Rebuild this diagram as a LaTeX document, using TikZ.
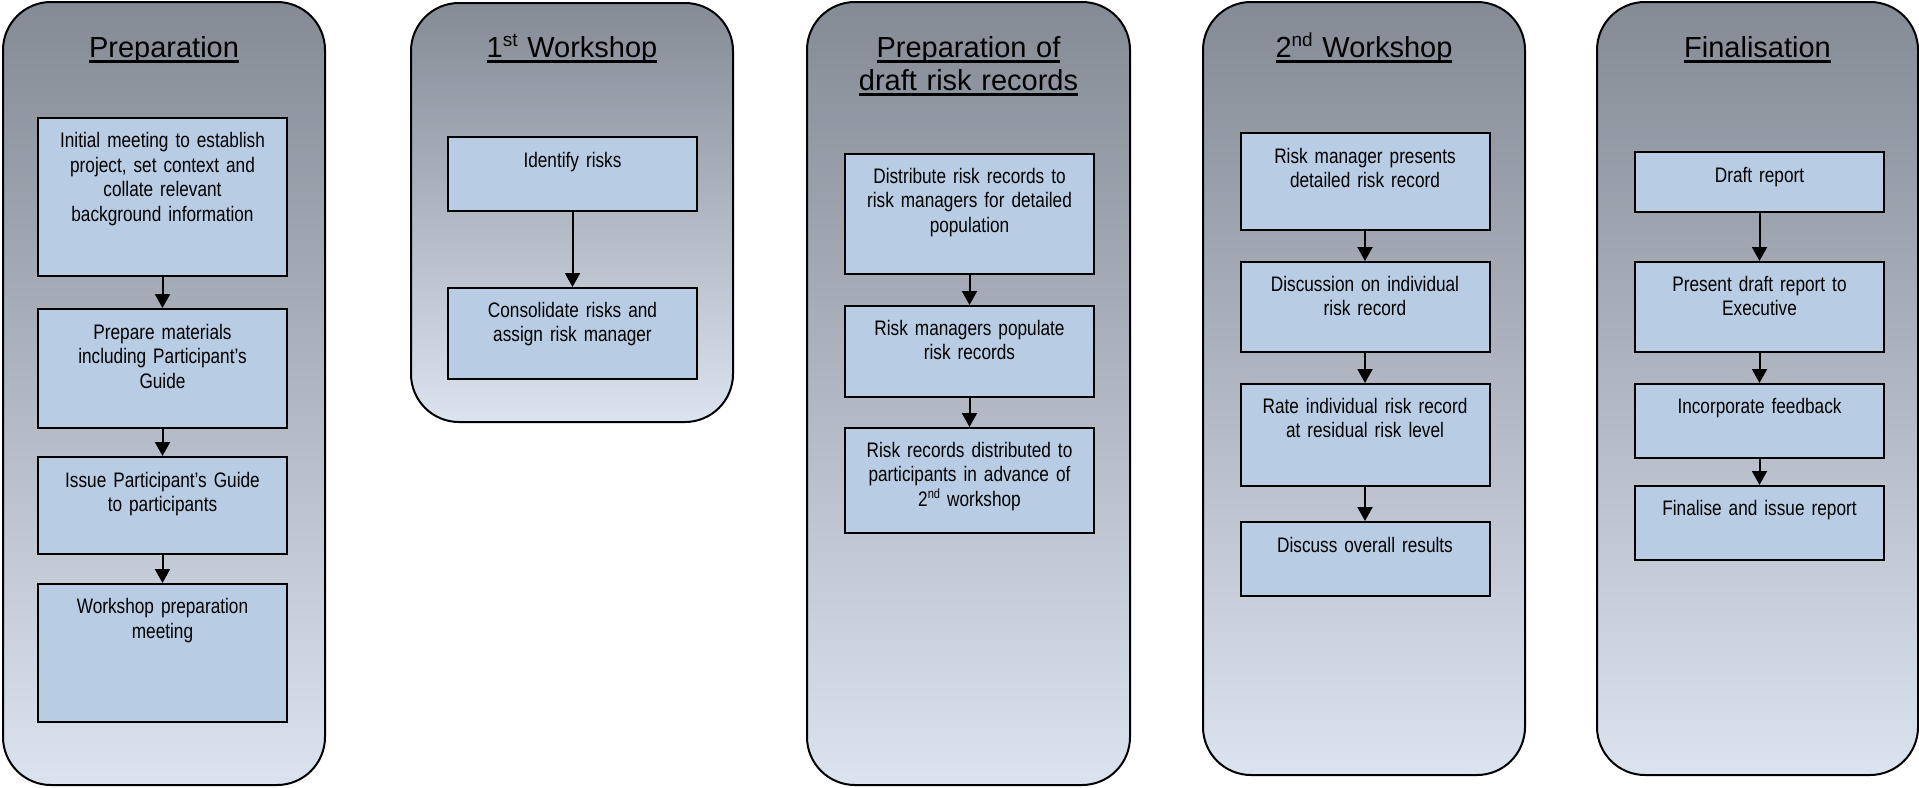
\documentclass[tikz,border=0pt]{standalone}
\usepackage{fontspec}
\setmainfont{Liberation Sans}
\newfontfamily\narrowfont{Liberation Sans}[FakeStretch=0.82]
\usetikzlibrary{arrows.meta}
\definecolor{paneltop}{RGB}{133,139,149}
\definecolor{panelbot}{RGB}{219,227,238}
\definecolor{boxfill}{RGB}{184,204,228}
\newsavebox\ulbox
\newcommand\ulline[1]{\leavevmode\sbox\ulbox{#1}\rlap{\rule[-5.5pt]{\wd\ulbox}{2.2pt}}\usebox\ulbox}
\newcommand\tsup[1]{\raisebox{11pt}{\fontsize{19}{19}\selectfont #1}}
\newcommand\bsup[1]{\raisebox{7.5pt}{\fontsize{13.5}{13.5}\selectfont #1}}
\begin{document}
\begin{tikzpicture}[x=1pt,y=-1pt,
  panel/.style={draw=black, line width=2pt, rounded corners=48pt, top color=paneltop, bottom color=panelbot, minimum width=322pt, anchor=north, inner sep=0pt, outer sep=0pt},
  stepbox/.style={draw=black, line width=2pt, fill=boxfill, minimum width=249pt, anchor=north, inner sep=0pt},
  steptext/.style={font=\narrowfont\fontsize{21}{24.6}\selectfont, text width=245pt, align=center, anchor=base, inner sep=0pt},
  title/.style={font=\fontsize{29}{33}\selectfont, text width=320pt, align=center, anchor=base, inner sep=0pt},
  arr/.style={line width=2pt, -{Triangle[width=15pt,length=14pt]}}]
\useasboundingbox (0,0) rectangle (1919,787);
% panels
\node[panel, minimum height=783pt] (P1) at (164,2) {};
\node[panel, minimum height=419pt] (P2) at (572,3) {};
\node[panel, minimum width=323pt, minimum height=783pt] (P3) at (968.5,2) {};
\node[panel, minimum height=773pt] (P4) at (1364,2) {};
\node[panel, minimum width=321pt, minimum height=773pt] (P5) at (1757.5,2) {};
% titles
\node[title] (T1) at (164,57) {\ulline{Preparation}};
\node[title] (T2) at (572,57) {\ulline{1\tsup{st} Workshop}};
\node[title] (T3) at (968.5,57) {\ulline{Preparation of}\\\ulline{draft risk records}};
\node[title] (T4) at (1364,57) {\ulline{2\tsup{nd} Workshop}};
\node[title] (T5) at (1757.5,57) {\ulline{Finalisation}};
% Panel 1
\node[stepbox, minimum height=158pt] (a1) at (162.5,117) {};
\node[steptext] (a1t) at (162.5,147.5) {Initial meeting to establish\\project, set context and\\collate relevant\\background information};
\node[stepbox, minimum height=119pt] (a2) at (162.5,308) {};
\node[steptext] (a2t) at (162.5,339) {Prepare materials\\including Participant’s\\Guide};
\node[stepbox, minimum height=97pt] (a3) at (162.5,456) {};
\node[steptext] (a3t) at (162.5,487) {Issue Participant’s Guide\\to participants};
\node[stepbox, minimum height=138pt] (a4) at (162.5,583) {};
\node[steptext] (a4t) at (162.5,613.5) {Workshop preparation\\meeting};
% Panel 2
\node[stepbox, minimum height=74pt] (b1) at (572.5,136) {};
\node[steptext] (b1t) at (572.5,167) {Identify risks};
\node[stepbox, minimum height=91pt] (b2) at (572.5,287) {};
\node[steptext] (b2t) at (572.5,317) {Consolidate risks and\\assign risk manager};
% Panel 3
\node[stepbox, minimum height=120pt] (c1) at (969.5,153) {};
\node[steptext] (c1t) at (969.5,183) {Distribute risk records to\\risk managers for detailed\\population};
\node[stepbox, minimum height=91pt] (c2) at (969.5,305) {};
\node[steptext] (c2t) at (969.5,335) {Risk managers populate\\risk records};
\node[stepbox, minimum height=105pt] (c3) at (969.5,427) {};
\node[steptext] (c3t) at (969.5,457) {Risk records distributed to\\participants in advance of\\2\bsup{nd} workshop};
% Panel 4
\node[stepbox, minimum height=97pt] (d1) at (1365,132) {};
\node[steptext] (d1t) at (1365,163) {Risk manager presents\\detailed risk record};
\node[stepbox, minimum height=90pt] (d2) at (1365,261) {};
\node[steptext] (d2t) at (1365,291) {Discussion on individual\\risk record};
\node[stepbox, minimum height=102pt] (d3) at (1365,383) {};
\node[steptext] (d3t) at (1365,413) {Rate individual risk record\\at residual risk level};
\node[stepbox, minimum height=74pt] (d4) at (1365,521) {};
\node[steptext] (d4t) at (1365,552) {Discuss overall results};
% Panel 5
\node[stepbox, minimum height=60pt] (e1) at (1759.5,151) {};
\node[steptext] (e1t) at (1759.5,182) {Draft report};
\node[stepbox, minimum height=90pt] (e2) at (1759.5,261) {};
\node[steptext] (e2t) at (1759.5,291) {Present draft report to\\Executive};
\node[stepbox, minimum height=74pt] (e3) at (1759.5,383) {};
\node[steptext] (e3t) at (1759.5,413) {Incorporate feedback};
\node[stepbox, minimum height=74pt] (e4) at (1759.5,485) {};
\node[steptext] (e4t) at (1759.5,515) {Finalise and issue report};
% arrows
\draw[arr] (a1) -- (a2);
\draw[arr] (a2) -- (a3);
\draw[arr] (a3) -- (a4);
\draw[arr] (b1) -- (b2);
\draw[arr] (c1) -- (c2);
\draw[arr] (c2) -- (c3);
\draw[arr] (d1) -- (d2);
\draw[arr] (d2) -- (d3);
\draw[arr] (d3) -- (d4);
\draw[arr] (e1) -- (e2);
\draw[arr] (e2) -- (e3);
\draw[arr] (e3) -- (e4);
\end{tikzpicture}
\end{document}
